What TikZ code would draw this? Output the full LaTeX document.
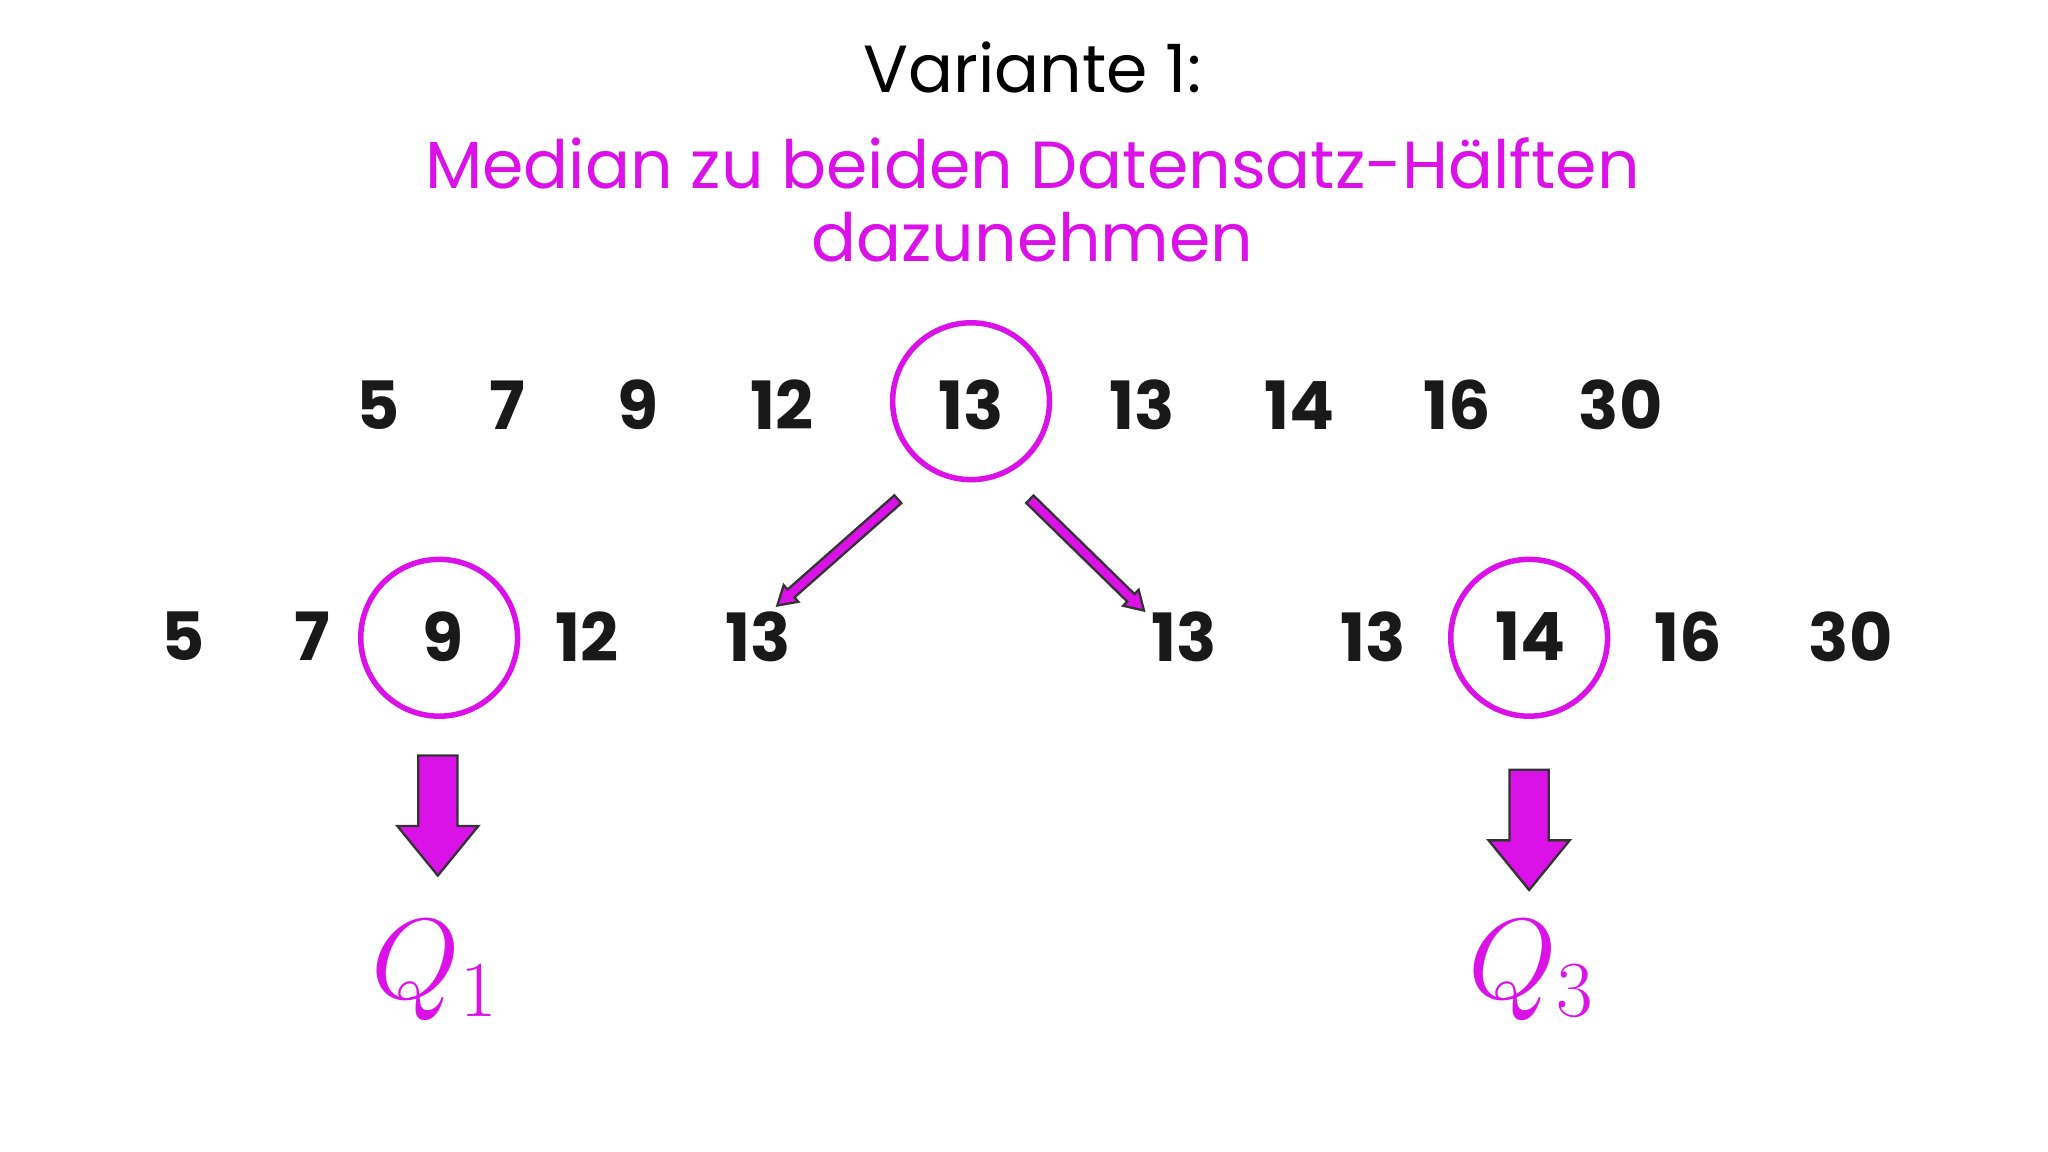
\documentclass[tikz,border=0pt]{standalone}
\usepackage{fontspec}
\setmainfont{Poppins}
\definecolor{mag}{RGB}{218,18,232}
\newcommand\myarrow[7]{%
  \begin{scope}[shift={(#1,#2)},rotate=#3]
  \filldraw[fill=mag,draw=black!80,line width=0.5pt]
   (0,-#5/2)--(#4-#7,-#5/2)--(#4-#7,-#6/2)--(#4,0)--(#4-#7,#6/2)--(#4-#7,#5/2)--(0,#5/2)--cycle;
  \end{scope}}
\begin{document}
\begin{tikzpicture}[
  num/.style={font=\fontsize{14.5}{17}\selectfont\bfseries,text=black!90},
  ring/.style={draw=mag,line width=1.2pt,circle,minimum size=1.2cm,inner sep=0pt}]
\useasboundingbox (0,-0.08) rectangle (15.67,8.73);
\node (title) at (7.9,8.21) {\fontsize{14.5}{17}\selectfont Variante 1:};
\node[text=mag,align=center,font=\fontsize{14.5}{16}\selectfont] (sub) at (7.9,7.2) {Median zu beiden Datensatz-Hälften\\dazunehmen};
\foreach \x/\t [count=\i] in {2.89/5,3.88/7,4.88/9,5.98/12,7.43/13,8.74/13,9.94/14,11.15/16,12.40/30}
  \node[num] (a\i) at (\x,5.63) {\t};
\node[ring] (c1) at (7.43,5.66) {};
\foreach \x/\t [count=\i] in {1.40/5,2.39/7,3.39/9,4.49/12,5.80/13,9.06/13,10.51/13,11.71/14,12.92/16,14.16/30}
  \node[num] (b\i) at (\x,3.86) {\t};
\node[ring] (c2) at (3.36,3.85) {};
\node[ring] (c3) at (11.70,3.85) {};
\myarrow{6.87}{4.91}{221.4}{1.23}{0.08}{0.17}{0.14}
\myarrow{7.88}{4.91}{-44.3}{1.22}{0.08}{0.17}{0.14}
\myarrow{3.35}{2.95}{-90}{0.92}{0.30}{0.62}{0.38}
\myarrow{11.70}{2.84}{-90}{0.92}{0.30}{0.62}{0.38}
\node[text=mag,font=\fontsize{25}{28}\selectfont] (q1) at (3.33,1.30) {$Q_1$};
\node[text=mag,font=\fontsize{25}{28}\selectfont] (q3) at (11.72,1.30) {$Q_3$};
\end{tikzpicture}
\end{document}
